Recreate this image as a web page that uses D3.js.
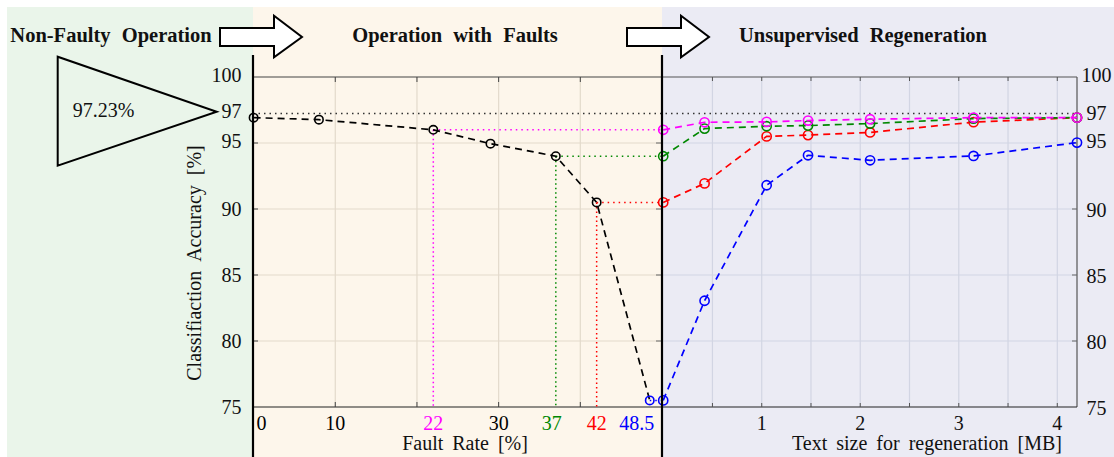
<!DOCTYPE html>
<html><head><meta charset="utf-8">
<script src="https://cdn.jsdelivr.net/npm/d3@7"></script>
<style>
html,body{margin:0;padding:0;background:#fff;}
</style></head>
<body>
<svg id="chart" width="1114" height="457" font-family="'Liberation Serif', 'DejaVu Serif', serif"></svg>
<script>
// ---- data ----
const faultRates = [0, 8, 22, 29, 37, 42, 48.5];
const faultAcc   = [96.92, 96.77, 96.0, 94.95, 94.0, 90.5, 75.5];
const baselineAcc = 97.23;

const regenSizes = [0, 0.42, 1.05, 1.47, 2.1, 3.15, 4.2];
const regenMagenta = [96.0, 96.57, 96.6, 96.7, 96.8, 96.92, 96.92];
const regenGreen   = [94.0, 96.09, 96.27, 96.32, 96.47, 96.85, 96.92];
const regenRed     = [90.5, 91.94, 95.5, 95.6, 95.8, 96.58, 96.92];
const regenBlue    = [75.5, 83.05, 91.8, 94.07, 93.69, 94.02, 95.03];
const seriesColors = ["#ff00ff", "#008800", "#ff0000", "#0000ff"];
const seriesStart  = [22, 37, 42, 48.5];

const faultTicks = [0, 10, 22, 30, 37, 42, 48.5];
const faultTickColors = ["#000", "#000", "#ff00ff", "#000", "#008800", "#ff0000", "#0000ff"];
const yTicks = [100, 97, 95, 90, 85, 80, 75];
const sizeTicks = [1, 2, 3, 4];

const svg = d3.select("#chart");
const FONT = "'Liberation Serif', 'DejaVu Serif', serif";
const xL = d3.scaleLinear().domain([0, 50]).range([253.6, 662]);
const xR = d3.scaleLinear().domain([0, 4.2]).range([663.2, 1077]);
const y  = d3.scaleLinear().domain([75, 100]).range([407, 77]);

function txt(x, yy, s, size, anchor){
  return svg.append("text").attr("x",x).attr("y",yy).attr("text-anchor",anchor||"middle")
    .attr("font-family",FONT).attr("font-size",size||"20px").attr("fill","#111").text(s);
}

// backgrounds
svg.append("rect").attr("x",7).attr("y",7).attr("width",246).attr("height",450).attr("fill","#eaf5ea");
svg.append("rect").attr("x",253).attr("y",7).attr("width",409).attr("height",450).attr("fill","#fdf6eb");
svg.append("rect").attr("x",662).attr("y",7).attr("width",452).attr("height",450).attr("fill","#ebebf4");

// grid - left
[10,20,30,40].forEach(v=>{
  svg.append("line").attr("x1",xL(v)).attr("x2",xL(v)).attr("y1",y(100)).attr("y2",y(75)).attr("stroke","#e3dacb").attr("stroke-width",1.2);
});
[95,90,85,80].forEach(v=>{
  svg.append("line").attr("x1",253).attr("x2",662).attr("y1",y(v)).attr("y2",y(v)).attr("stroke","#e3dacb").attr("stroke-width",1.2);
});
// grid - right
d3.range(0.5, 4.01, 0.5).forEach(v=>{
  svg.append("line").attr("x1",xR(v)).attr("x2",xR(v)).attr("y1",y(100)).attr("y2",y(75)).attr("stroke","#d2d5e3").attr("stroke-width",1.2);
});
[95,90,85,80].forEach(v=>{
  svg.append("line").attr("x1",662).attr("x2",1077).attr("y1",y(v)).attr("y2",y(v)).attr("stroke","#d2d5e3").attr("stroke-width",1.2);
});

// box lines
svg.append("line").attr("x1",253).attr("x2",662).attr("y1",y(100)).attr("y2",y(100)).attr("stroke","#444").attr("stroke-width",1.2);
svg.append("line").attr("x1",662).attr("x2",1077).attr("y1",y(100)).attr("y2",y(100)).attr("stroke","#555").attr("stroke-width",1.2);
svg.append("line").attr("x1",1077).attr("x2",1077).attr("y1",y(100)).attr("y2",y(75)).attr("stroke","#555").attr("stroke-width",1.2);
svg.append("line").attr("x1",253).attr("x2",1077).attr("y1",y(75)).attr("y2",y(75)).attr("stroke","#222").attr("stroke-width",1.2);

// ticks
[10,20,30,40].forEach(v=>{
  svg.append("line").attr("x1",xL(v)).attr("x2",xL(v)).attr("y1",y(100)).attr("y2",y(100)+5).attr("stroke","#444");
  svg.append("line").attr("x1",xL(v)).attr("x2",xL(v)).attr("y1",y(75)).attr("y2",y(75)-5).attr("stroke","#444");
});
[95,90,85,80].forEach(v=>{
  svg.append("line").attr("x1",253).attr("x2",258).attr("y1",y(v)).attr("y2",y(v)).attr("stroke","#444");
  svg.append("line").attr("x1",656).attr("x2",662).attr("y1",y(v)).attr("y2",y(v)).attr("stroke","#666");
  svg.append("line").attr("x1",1072).attr("x2",1077).attr("y1",y(v)).attr("y2",y(v)).attr("stroke","#666");
});
d3.range(0.5, 4.01, 0.5).forEach(v=>{
  svg.append("line").attr("x1",xR(v)).attr("x2",xR(v)).attr("y1",y(75)).attr("y2",y(75)-4).attr("stroke","#555");
  svg.append("line").attr("x1",xR(v)).attr("x2",xR(v)).attr("y1",y(100)).attr("y2",y(100)+4).attr("stroke","#555");
});

// baseline dotted line
svg.append("line").attr("x1",253).attr("x2",1077).attr("y1",y(baselineAcc)).attr("y2",y(baselineAcc))
  .attr("stroke","#333").attr("stroke-width",1.5).attr("stroke-dasharray","1.5,4");

// dotted guide lines from fault points
seriesStart.forEach((fr,i)=>{
  const idx = faultRates.indexOf(fr);
  const acc = faultAcc[idx];
  svg.append("line").attr("x1",xL(fr)).attr("x2",662).attr("y1",y(acc)).attr("y2",y(acc))
    .attr("stroke",seriesColors[i]).attr("stroke-width",1.5).attr("stroke-dasharray","1.5,4");
  if (fr !== 48.5) {
    svg.append("line").attr("x1",xL(fr)).attr("x2",xL(fr)).attr("y1",y(acc)).attr("y2",y(75))
      .attr("stroke",seriesColors[i]).attr("stroke-width",1.5).attr("stroke-dasharray","1.5,3");
  }
});

// black fault series
const lineL = d3.line().x((d,i)=>xL(faultRates[i])).y(d=>y(d));
svg.append("path").attr("d",lineL(faultAcc)).attr("fill","none").attr("stroke","#000")
  .attr("stroke-width",1.7).attr("stroke-dasharray","7,5");
faultAcc.forEach((v,i)=>{
  svg.append("circle").attr("cx",xL(faultRates[i])).attr("cy",y(v)).attr("r",4.2)
    .attr("fill","none").attr("stroke", i===6 ? "#0000ff" : "#000").attr("stroke-width",1.6);
});

// regeneration series
const regen = [regenMagenta, regenGreen, regenRed, regenBlue];
const lineR = d3.line().x((d,i)=>xR(regenSizes[i])).y(d=>y(d));
[3,2,1,0].forEach(k=>{
  svg.append("path").attr("d",lineR(regen[k])).attr("fill","none").attr("stroke",seriesColors[k])
    .attr("stroke-width",1.7).attr("stroke-dasharray","7,5");
  regen[k].forEach((v,i)=>{
    svg.append("circle").attr("cx",xR(regenSizes[i])).attr("cy",y(v)).attr("r",4.6)
      .attr("fill","none").attr("stroke",seriesColors[k]).attr("stroke-width",1.6);
  });
});

// separators
svg.append("line").attr("x1",253).attr("x2",253).attr("y1",55).attr("y2",457).attr("stroke","#000").attr("stroke-width",2.2);
svg.append("line").attr("x1",662).attr("x2",662).attr("y1",55).attr("y2",457).attr("stroke","#000").attr("stroke-width",2.2);

// tick labels
const labelDx = {0: 8, 37: -4, 48.5: -13};
faultTicks.forEach((t,i)=>{
  txt(xL(t)+(labelDx[t]||0), 430, String(t)).attr("fill",faultTickColors[i]);
});
sizeTicks.forEach(t=>{ txt(xR(t), 430, String(t)); });
const yDyL = {100:4.5, 97:1, 95:4.5};
const yDyR = {100:5, 97:3.5, 95:4.5};
yTicks.forEach(t=>{
  txt(241.5, y(t)+(yDyL[t]!==undefined?yDyL[t]:7), String(t), "20px", "end");
  txt(1096.5, y(t)+(yDyR[t]!==undefined?yDyR[t]:7.5), String(t));
});

// axis titles
txt(465, 450, "Fault Rate [%]").attr("word-spacing","4px");
txt(927, 450, "Text size for regeneration [MB]").attr("word-spacing","4px");
svg.append("text").attr("transform","translate(201,263) rotate(-90)").attr("text-anchor","middle")
  .attr("font-family",FONT).attr("font-size","20px").attr("fill","#111")
  .attr("word-spacing","5px").text("Classifiaction Accuracy [%]");

// headers
const hdr = [["Non-Faulty Operation",111],["Operation with Faults",455],["Unsupervised Regeneration",863]];
hdr.forEach(h=>{
  txt(h[1], 42, h[0], "20.5px").attr("font-weight","bold").attr("word-spacing","6px");
});

// arrows
function arrow(x0){
  const p = [[x0,28],[x0+54,28],[x0+54,15.7],[x0+82,37],[x0+54,57.3],[x0+54,46],[x0,46]];
  svg.append("polygon").attr("points",p.map(d=>d.join(",")).join(" "))
    .attr("fill","#fff").attr("stroke","#000").attr("stroke-width",2);
}
arrow(220); arrow(627);

// triangle
svg.append("polygon").attr("points","57.7,56.7 57.7,165.7 216.7,111.7")
  .attr("fill","none").attr("stroke","#000").attr("stroke-width",2);
txt(103.5, 117, "97.23%");
</script>
</body></html>
